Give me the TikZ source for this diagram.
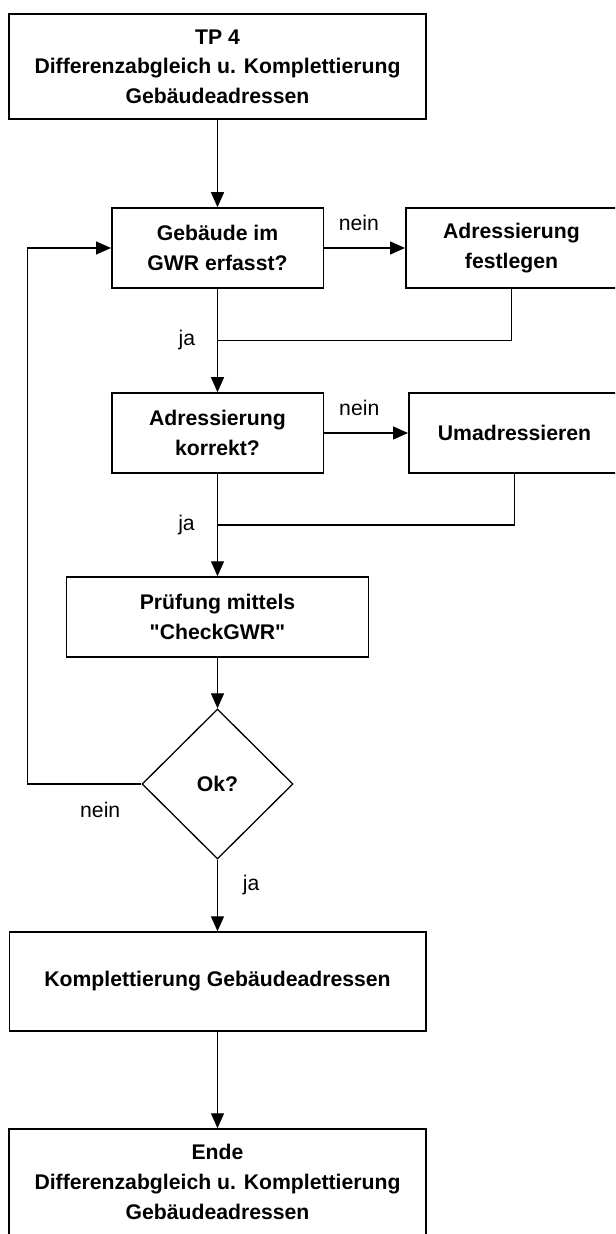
\documentclass[tikz,border=0pt]{standalone}
\usepackage{fontspec}
\setmainfont{Liberation Sans}[Ligatures=TeXOff]
\usepackage{tikz}
\usetikzlibrary{arrows.meta, calc, positioning, shapes.geometric}
\newcommand{\boxfont}{\fontsize{10.6pt}{14.8pt}\selectfont\bfseries}
\newcommand{\edgefont}{\fontsize{10.6pt}{14.8pt}\selectfont}
\tikzstyle{block}=[rectangle, draw, line width=0.75pt, minimum width=105.75pt, minimum height=40pt, inner sep=0pt, align=center, font=\boxfont]
\tikzstyle{wideblock}=[block, minimum width=208.5pt, minimum height=52.5pt]
\tikzstyle{decision}=[diamond, draw, line width=0.65pt, aspect=1, minimum width=75.5pt, minimum height=75pt, inner sep=0pt, font=\boxfont]
\tikzstyle{pre}=[<-]
\tikzstyle{post}=[->]

\begin{document}
\begin{tikzpicture}[node distance=92pt, >={Triangle[length=7.5pt, width=6.5pt]}, line width=0.65pt, font=\edgefont]
  \useasboundingbox (0,0) rectangle (307.5pt,-617pt);
  \clip (0,0) rectangle (307.5pt,-617pt);

  \node [wideblock] (tp) at (108.75pt,-33.25pt) {TP 4\\Differenzabgleich u. Komplettierung\\Gebäudeadressen};

  % Gebaeude im GWR?
  \node [block] (erfasst) [node distance=90.75pt, below of=tp] {Gebäude im\\GWR erfasst?}
        edge [pre] (tp);
  \node [block] (festlegen) [node distance=147pt, right of=erfasst] {Adressierung\\festlegen}
        edge [pre] node [pos=.57, above=5pt] {nein} (erfasst);

  % Adressierung korrekt?
  \node [block] (korrekt) [node distance=92.5pt, below of=erfasst] {Adressierung\\korrekt?}
        edge [pre] node [left=7.5pt] {ja} (erfasst);
  \node [block] (umadr) [node distance=148.5pt, right of=korrekt] {Umadressieren}
        edge [pre] node [pos=.58, above=5pt] {nein} (korrekt);
  \coordinate (m1) at ($(erfasst.south)!.5!(korrekt.north)$);
  \draw (festlegen.south) |- (m1);

  \node [block, minimum width=151pt] (pruefung) [below of=korrekt] {Prüfung mittels\\"CheckGWR"}
        edge [pre] node [left=7.7pt] {ja} (korrekt);
  \coordinate (m2) at ($(korrekt.south)!.5!(pruefung.north)$);
  \draw (umadr.south) |- (m2);

  % Ok?
  \node [decision] (ok) [node distance=83.5pt, below of=pruefung] {Ok?}
        edge [pre] (pruefung);
  \node [wideblock, minimum width=208.25pt, minimum height=49.5pt] (kompl) [node distance=98.75pt, below of=ok] {Komplettierung Gebäudeadressen}
        edge [pre] node [pos=.64, right=9pt] {ja} (ok);
  \node [wideblock, minimum height=53pt] (ende) [node distance=100.25pt, below of=kompl] {Ende\\Differenzabgleich u. Komplettierung\\Gebäudeadressen}
        edge [pre] (kompl);

  % zurueck zum Anfang
  \draw [->] (ok.west) -- node [pos=.36, below=5.5pt] {nein} ++(-57.1pt,0) |- (erfasst.west);
\end{tikzpicture}
\end{document}
